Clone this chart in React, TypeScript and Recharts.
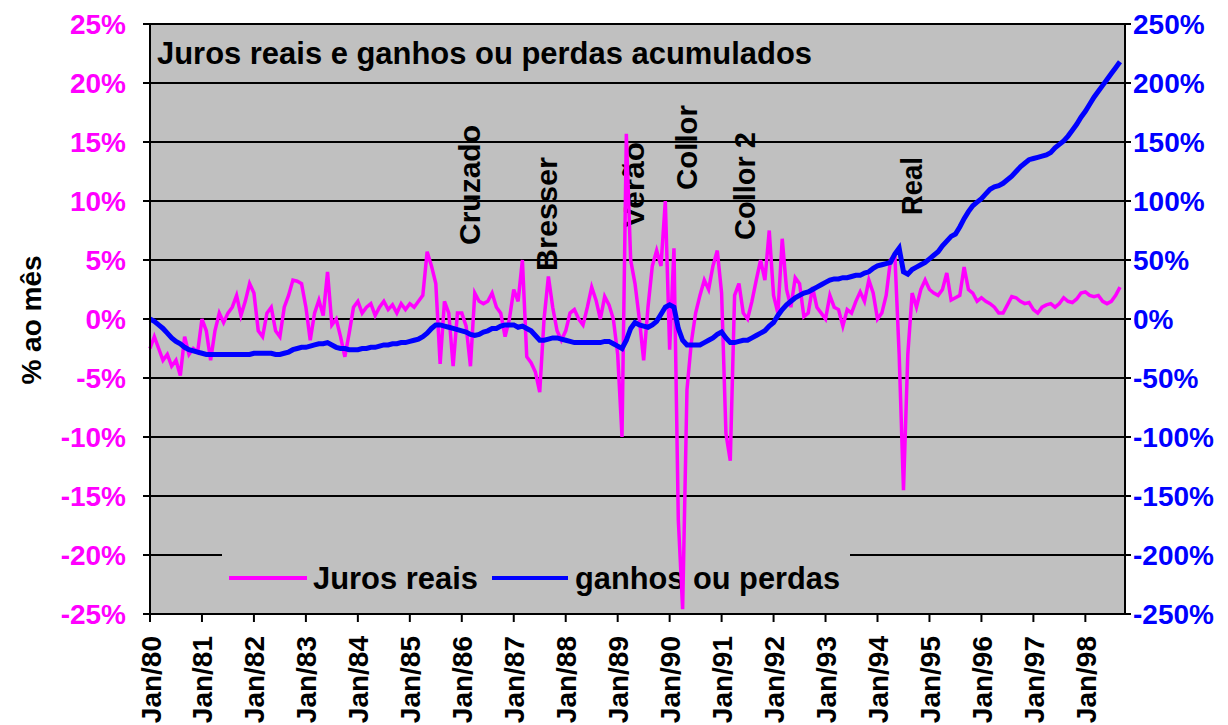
import React from "react";
import { ComposedChart, Line, XAxis, YAxis, CartesianGrid, Customized } from "recharts";

const FONTE = "'Liberation Sans', Arial, sans-serif";

const MESES = ["Jan", "Fev", "Mar", "Abr", "Mai", "Jun", "Jul", "Ago", "Set", "Out", "Nov", "Dez"];
const ANOS = ["80", "81", "82", "83", "84", "85", "86", "87", "88", "89", "90", "91", "92", "93", "94", "95", "96", "97", "98"];
// Jan/80 .. Set/98
const periodos = ANOS.flatMap((a) => MESES.map((m) => `${m}/${a}`)).slice(0, 225);

// juros reais, % ao mês
const jurosReais = [
  -2.5, -1.5, -2.5, -3.5, -3, -4, -3.5, -4.8, -1.5, -3, -2.5, -2.8, // 80
  0, -1, -3.5, -1, 0.5, -0.3, 0.5, 1, 2, 0.3, 1.5, 3, // 81
  2.2, -1, -1.5, 0.5, 1, -1, -1.5, 1, 2, 3.3, 3.2, 3, // 82
  1, -1.8, 0.5, 1.6, 0.3, 4, -0.5, 0, -1.5, -3.2, -1.2, 1, // 83
  1.5, 0.5, 1, 1.3, 0.3, 1, 1.5, 0.8, 1.2, 0.5, 1.3, 0.8, // 84
  1.3, 1, 1.5, 2, 5.7, 4.5, 3, -3.8, 1.5, 0.5, -4, 0.5, // 85
  0.5, -0.6, -4, 2.2, 1.5, 1.3, 1.5, 2.2, 1, 0.5, -1.5, 0, // 86
  2.5, 1.5, 5, -3.2, -3.7, -4.5, -6.2, 0, 3.6, 1, -1, -1.8, // 87
  -1, 0.5, 0.8, 0, -0.5, 1, 2.7, 1.6, 0, 1.9, 1.2, 0, // 88
  -3, -10, 15.7, 5, 3, 0, -3.5, 1, 4.5, 5.8, 4.5, 10, // 89
  -2.6, 6, -17, -24.6, -6, -2, 0.5, 2, 3.3, 2.5, 4.5, 5.8, // 90
  2.2, -9.7, -12, 2, 3, 0.5, 0, 1.5, 3.3, 5, 3.3, 7.5, // 91
  2, 0.5, 6.8, 2.5, 1, 3.5, 3, 0.2, 0.5, 2.7, 1, 0.5, // 92
  0, 2, 1, 0.8, -0.6, 0.8, 0.5, 1.5, 2.3, 1.5, 3.3, 2.2, // 93
  0, 0.5, 2, 5, 5.5, -3, -14.5, -3, 2.2, 1, 2.5, 3.3, // 94
  2.5, 2.2, 2, 2.5, 3.9, 1.6, 1.8, 2, 4.4, 2.5, 2.2, 1.5, // 95
  1.8, 1.5, 1.3, 1, 0.5, 0.5, 1.2, 1.9, 1.8, 1.5, 1.3, 1.4, // 96
  0.8, 0.5, 1, 1.2, 1.3, 1, 1.3, 1.8, 1.5, 1.4, 1.7, 2.2, // 97
  2.3, 2, 1.9, 2, 1.5, 1.3, 1.5, 2, 2.7, // 98
];

// ganhos ou perdas acumulados, %
const ganhosPerdas = [
  0, -2, -5, -8, -12, -16, -19, -21, -24, -26, -27, -28, // 80
  -29, -30, -30, -30, -30, -30, -30, -30, -30, -30, -30, -30, // 81
  -29, -29, -29, -29, -29, -30, -30, -29, -28, -26, -25, -24, // 82
  -24, -23, -22, -21, -21, -20, -22, -24, -25, -25, -26, -26, // 83
  -26, -25, -25, -24, -24, -23, -22, -22, -21, -21, -20, -20, // 84
  -19, -18, -17, -15, -12, -8, -5, -5, -6, -7, -8, -9, // 85
  -10, -11, -13, -14, -13, -11, -10, -8, -8, -6, -5, -5, // 86
  -5, -7, -6, -8, -10, -14, -18, -18, -17, -16, -16, -17, // 87
  -18, -19, -20, -20, -20, -20, -20, -20, -20, -19, -19, -21, // 88
  -23, -25, -18, -8, -3, -5, -6, -7, -5, -2, 4, 10, // 89
  12, 10, -8, -18, -22, -22, -22, -22, -20, -18, -16, -13, // 90
  -11, -16, -20, -20, -19, -18, -18, -16, -14, -12, -10, -6, // 91
  -3, 3, 8, 12, 15, 18, 20, 22, 23, 25, 27, 29, // 92
  31, 33, 34, 34, 35, 35, 36, 37, 37, 39, 40, 43, // 93
  45, 46, 47, 48, 55, 60, 40, 38, 42, 44, 46, 48, // 94
  51, 54, 57, 62, 66, 70, 72, 78, 85, 91, 96, 99, // 95
  102, 106, 110, 112, 113, 115, 118, 121, 125, 129, 132, 135, // 96
  136, 137, 138, 139, 141, 145, 148, 151, 155, 160, 165, 171, // 97
  176, 182, 188, 193, 198, 203, 208, 213, 218, // 98
];

const ticksMes = [-25, -20, -15, -10, -5, 0, 5, 10, 15, 20, 25];
const ticksAcum = [-250, -200, -150, -100, -50, 0, 50, 100, 150, 200, 250];

const planos = ["Cruzado", "Bresser", "Verão", "Collor", "Collor 2", "Real"];

const dados = periodos.map((p, i) => ({ periodo: p, juros: jurosReais[i], ganhos: ganhosPerdas[i] }));

// posição dos rótulos dos planos (centro x, base y, comprimento)
const POS_PLANOS = [
  [469, 245, 120],
  [546, 271, 114],
  [633, 228, 86],
  [686, 190, 85],
  [744, 240, 108],
  [911, 215, 58],
];

function XTick(props: any) {
  const { x, y, payload } = props;
  return (
    <text
      transform={`translate(${x + 1},${y}) rotate(-90)`}
      textAnchor="end"
      dominantBaseline="central"
      fontFamily={FONTE}
      fontWeight="bold"
      fontSize={28}
      fill="#000"
    >
      {payload.value}
    </text>
  );
}

function Sobreposicao() {
  return (
    <g>
      {/* legenda tapa a linha de grade */}
      <rect x={222} y={550} width={628} height={10} fill="#c0c0c0" />
      <text x={157} y={64} fontFamily={FONTE} fontWeight="bold" fontSize={31} textLength={655} lengthAdjust="spacingAndGlyphs" fill="#000">
        Juros reais e ganhos ou perdas acumulados
      </text>
      {planos.map((nome, i) => {
        const [cx, base, len] = POS_PLANOS[i];
        return (
          <text
            key={nome}
            transform={`translate(${cx},${base}) rotate(-90)`}
            dominantBaseline="central"
            fontFamily={FONTE}
            fontWeight="bold"
            fontSize={30}
            textLength={len}
            lengthAdjust="spacingAndGlyphs"
            fill="#000"
          >
            {nome}
          </text>
        );
      })}
      <text
        transform="translate(31,320) rotate(-90)"
        textAnchor="middle"
        dominantBaseline="central"
        fontFamily={FONTE}
        fontWeight="bold"
        fontSize={28}
        fill="#000"
      >
        % ao mês
      </text>
      <line x1={229} x2={307} y1={578} y2={578} stroke="#ff00ff" strokeWidth={4} />
      <text x={313} y={589} fontFamily={FONTE} fontWeight="bold" fontSize={31} textLength={165} lengthAdjust="spacingAndGlyphs" fill="#000">
        Juros reais
      </text>
      <line x1={492} x2={568} y1={578} y2={578} stroke="#0000ff" strokeWidth={4} />
      <text x={575} y={589} fontFamily={FONTE} fontWeight="bold" fontSize={31} textLength={265} lengthAdjust="spacingAndGlyphs" fill="#000">
        ganhos ou perdas
      </text>
    </g>
  );
}

export default function App() {
  return (
    <div style={{ position: "absolute", left: 0, top: 0, background: "#fff" }}>
      <ComposedChart width={1228} height={725} data={dados} margin={{ top: 24, right: 0, bottom: 0, left: 0 }}>
        <CartesianGrid yAxisId="mes" vertical={false} stroke="#000" strokeWidth={2} fill="#c0c0c0" fillOpacity={1} />
        <XAxis
          dataKey="periodo"
          interval={11}
          height={111}
          tickSize={8}
          tickMargin={14}
          tick={<XTick />}
          padding={{ left: 0, right: 5 }}
          axisLine={{ stroke: "#000", strokeWidth: 2 }}
          tickLine={{ stroke: "#000", strokeWidth: 2 }}
        />
        <YAxis
          yAxisId="mes"
          domain={[-25, 25]}
          ticks={ticksMes}
          width={150}
          tickSize={7}
          tickMargin={17}
          tickFormatter={(v) => `${v}%`}
          tick={{ fill: "#ff00ff", fontSize: 28, fontWeight: "bold", fontFamily: FONTE }}
          axisLine={{ stroke: "#000", strokeWidth: 2 }}
          tickLine={{ stroke: "#000", strokeWidth: 2 }}
        />
        <YAxis
          yAxisId="acum"
          orientation="right"
          domain={[-250, 250]}
          ticks={ticksAcum}
          width={103}
          tickSize={6}
          tickMargin={2}
          tickFormatter={(v) => `${v}%`}
          tick={{ fill: "#0000ff", fontSize: 28, fontWeight: "bold", fontFamily: FONTE, textAnchor: "start" }}
          axisLine={{ stroke: "#000", strokeWidth: 2 }}
          tickLine={{ stroke: "#000", strokeWidth: 2 }}
        />
        <Customized component={<Sobreposicao />} />
        <Line yAxisId="mes" type="linear" dataKey="juros" stroke="#ff00ff" strokeWidth={3.5} dot={false} activeDot={false} isAnimationActive={false} />
        <Line yAxisId="acum" type="linear" dataKey="ganhos" stroke="#0000ff" strokeWidth={5} dot={false} activeDot={false} isAnimationActive={false} />
      </ComposedChart>
    </div>
  );
}
